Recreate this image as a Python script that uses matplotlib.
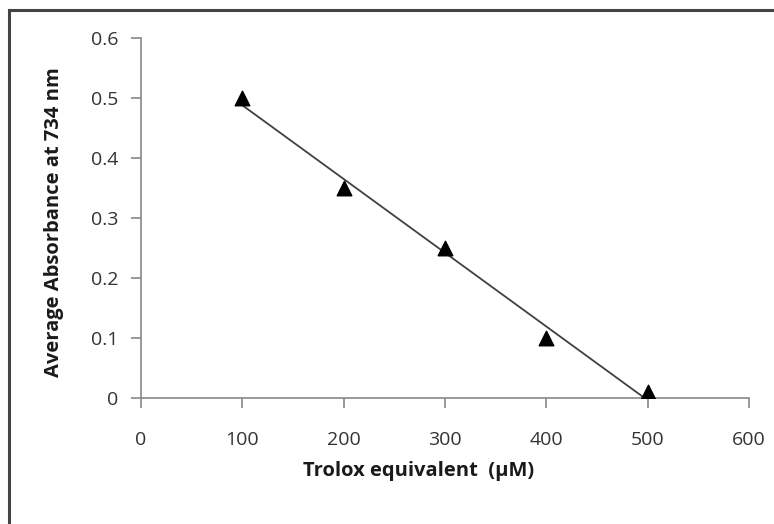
import numpy as np
import matplotlib
matplotlib.use('Agg')
import matplotlib.pyplot as plt
from matplotlib.lines import Line2D

# Trolox standard curve
trolox = [100, 200, 300, 400, 500]
absorbance = [0.50, 0.35, 0.25, 0.10, 0.01]
x_ticks = [0, 100, 200, 300, 400, 500, 600]
y_ticks = [0, 0.1, 0.2, 0.3, 0.4, 0.5, 0.6]
y_tick_labels = ['0', '0.1', '0.2', '0.3', '0.4', '0.5', '0.6']


def main():
    plt.rcParams['font.family'] = ['Open Sans', 'DejaVu Sans']

    fig = plt.figure(figsize=(7.74, 5.24), dpi=100)
    ax = fig.add_axes([0.182, 0.2405, 0.786, 0.687])

    # linear trendline through the points
    slope, intercept = np.polyfit(trolox, absorbance, 1)
    xs = np.array([trolox[0], trolox[-1]])
    ax.plot(xs, slope * xs + intercept, color='#404040', lw=1.3, zorder=2)
    ax.scatter(trolox, absorbance, marker='^', s=110, color='black', zorder=3)

    ax.set_xlim(0, 600)
    ax.set_ylim(0, 0.6)
    ax.set_xticks(x_ticks)
    ax.set_yticks(y_ticks)
    ax.set_yticklabels(y_tick_labels)

    for side in ['top', 'right']:
        ax.spines[side].set_visible(False)
    for side in ['left', 'bottom']:
        ax.spines[side].set_color('#888888')
        ax.spines[side].set_linewidth(1.2)
    ax.tick_params(axis='both', colors='#888888', length=7, width=1.2,
                   labelsize=14, labelcolor='#333333', direction='out')
    ax.tick_params(axis='x', pad=17)
    ax.tick_params(axis='y', pad=9)

    ax.set_xlabel('Trolox equivalent  (µM)', fontsize=14.5, fontweight='bold',
                  color='#1a1a1a')
    ax.xaxis.set_label_coords(0.457, -0.175)
    ax.set_ylabel('Average Absorbance at 734 nm', fontsize=14.5, fontweight='bold',
                  color='#1a1a1a')
    ax.yaxis.set_label_coords(-0.126, 0.49)

    # outer frame (only top and left edges visible in the crop)
    fig.add_artist(Line2D([9 / 774, 9 / 774], [0, 1 - 10 / 524],
                          transform=fig.transFigure, color='#444444', lw=2.2))
    fig.add_artist(Line2D([9 / 774, 1], [1 - 10 / 524, 1 - 10 / 524],
                          transform=fig.transFigure, color='#444444', lw=2.2))

    plt.savefig('out.png', dpi=100)


if __name__ == '__main__':
    main()
